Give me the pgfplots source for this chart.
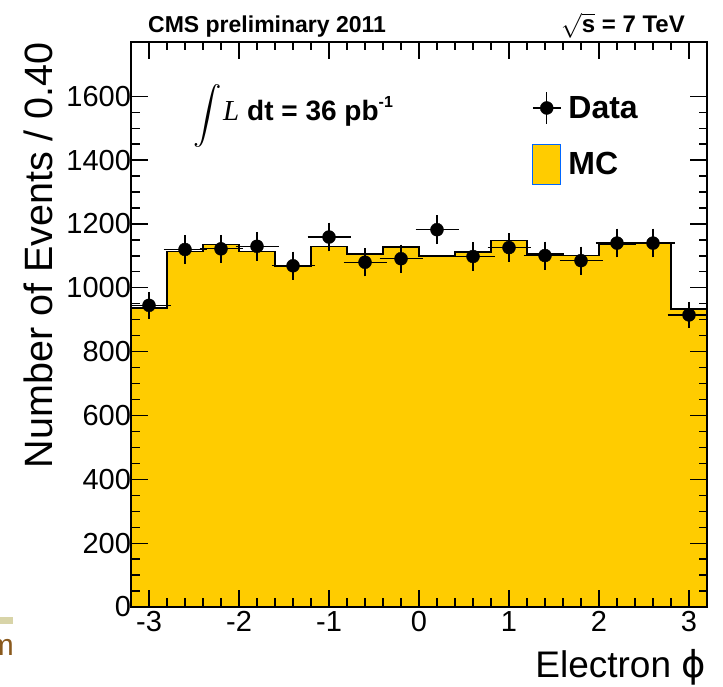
\documentclass[border=0pt]{standalone}
\usepackage{graphicx}
\usepackage{pgfplots}
\usepackage{pgfplotstable}
\pgfplotsset{compat=1.18}
\usepackage{fontspec}
\setmainfont{Liberation Sans}
\newfontfamily\timesfont{Liberation Serif}
\newfontfamily\dejavu{DejaVu Sans}
\definecolor{mcyellow}{HTML}{FFCC00}
\definecolor{tanbox}{HTML}{D8D4A8}
\definecolor{brownm}{HTML}{8A5A1E}
\pgfplotstableread{
x y ex ey
-3.0 945 0.2 31
-2.6 1120 0.2 33
-2.2 1122 0.2 33
-1.8 1130 0.2 34
-1.4 1069 0.2 33
-1.0 1159 0.2 34
-0.6 1080 0.2 33
-0.2 1091 0.2 33
0.2 1182 0.2 34
0.6 1098 0.2 33
1.0 1126 0.2 34
1.4 1101 0.2 33
1.8 1085 0.2 33
2.2 1140 0.2 34
2.6 1140 0.2 34
3.0 915 0.2 30
}\datatab
\pgfplotstableread{
x y
-3.2 937
-2.8 1113
-2.4 1135
-2.0 1113
-1.6 1067
-1.2 1129
-0.8 1106
-0.4 1127
0.0 1100
0.4 1112
0.8 1148
1.2 1106
1.6 1101
2.0 1135
2.4 1138
2.8 933
3.2 933
}\mctab
\begin{document}
\begin{tikzpicture}[x=1bp,y=1bp]
\path[use as bounding box] (0,0) rectangle (723,687);
\begin{axis}[
  at={(131bp,80bp)}, anchor=south west,
  scale only axis, width=576bp, height=565bp,
  xmin=-3.2, xmax=3.2, ymin=0, ymax=1770,
  xtick={-3,-2,...,3}, minor x tick num=4,
  ytick={0,200,...,1600}, minor y tick num=3,
  tick align=inside,
  major tick length=17bp, minor tick length=8.5bp,
  axis line style={line width=2bp},
  every tick/.style={black, line width=1.3bp},
  tick label style={font=\fontsize{29bp}{32bp}\selectfont},
  yticklabel style={xshift=3.5bp},
  xticklabel style={yshift=-1bp},
  /pgf/number format/assume math mode=true,
  /pgf/number format/1000 sep={},
  axis on top,
  legend style={draw=none, fill=none, at={(rel axis cs:0.696,0.913)}, anchor=north west,
    font=\fontsize{32bp}{36bp}\selectfont\bfseries, row sep=19bp, inner sep=0pt,
    nodes={inner sep=2bp}, /tikz/column sep=5bp},
  legend cell align=left,
]
\addlegendimage{legend image code/.code={
  \draw[black, line width=1.3bp] (0bp,0bp) -- (28bp,0bp);
  \draw[black, line width=1.3bp] (14bp,-16bp) -- (14bp,16bp);
  \fill[black] (14bp,0bp) circle (6.5bp);}}
\addlegendentry{Data}
\addlegendimage{legend image code/.code={
  \draw[fill=mcyellow, draw=blue!60!cyan, line width=0.8bp] (0bp,-20bp) rectangle (28bp,20bp);}}
\addlegendentry{MC}
\addplot[const plot, fill=mcyellow, draw=black, line width=1.5bp, forget plot] table[x=x,y=y] {\mctab} \closedcycle;
\addplot[only marks, mark=*, mark size=6.5bp, black, forget plot,
  error bars/.cd, x dir=both, x explicit, y dir=both, y explicit,
  error bar style={line width=1.3bp, black},
  error mark options={mark size=3.5bp, line width=1.3bp, black}]
  table[x=x, y=y, x error=ex, y error=ey] {\datatab};
\end{axis}
% texts
\node[anchor=base west, inner sep=0pt] at (148,654) {\fontsize{23bp}{26bp}\selectfont\bfseries CMS preliminary 2011};
\node[anchor=base east, inner sep=0pt] at (685,654) {\fontsize{24bp}{26bp}\selectfont\bfseries $\sqrt{\hbox{\bfseries s}}$ = 7 TeV};
\node[anchor=south west, inner sep=0pt] at (193,539) {\resizebox*{!}{63bp}{$\displaystyle\int$}};
\node[anchor=base west, inner sep=0pt] at (223,566) {\fontsize{29bp}{30bp}\selectfont\timesfont\itshape L};
\node[anchor=base west, inner sep=0pt] at (247,566) {\fontsize{28bp}{30bp}\selectfont\bfseries dt = 36 pb\raisebox{13bp}{\fontsize{16bp}{18bp}\selectfont\bfseries -1}};
\node[anchor=base east, inner sep=0pt, rotate=90] at (52,645) {\fontsize{39.5bp}{42bp}\selectfont Number of Events / 0.40};
\node[anchor=base east, inner sep=0pt] at (706,9) {\fontsize{37bp}{40bp}\selectfont Electron {\dejavu ϕ}};
% slide remnants at the lower left
\fill[tanbox] (0,63) rectangle (13,70);
\node[anchor=base east, inner sep=0pt, text=brownm] at (14,31) {\fontsize{30bp}{32bp}\selectfont m};
\end{tikzpicture}
\end{document}
